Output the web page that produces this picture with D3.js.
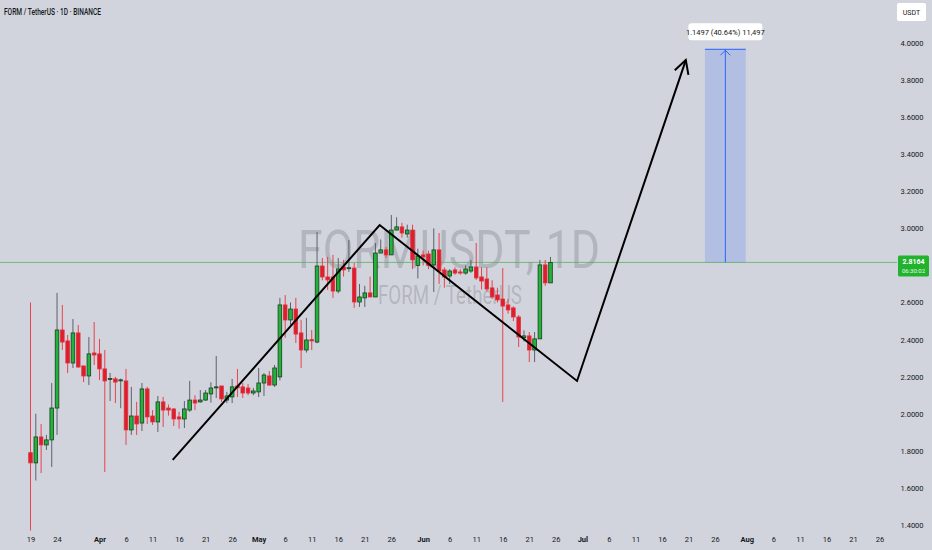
<!DOCTYPE html>
<html><head><meta charset="utf-8">
<script src="https://cdn.jsdelivr.net/npm/d3@7"></script>
<style>
html,body{margin:0;padding:0;background:#d1d4dc;}
svg{display:block;font-family:Roboto,"Noto Sans",sans-serif;}
</style></head>
<body>
<script>
// ---------- DATA ----------
const startDate = "2025-03-19";
const opens  = [1.79,1.735,1.875,1.832,1.859,2.031,2.452,2.393,2.274,2.436,2.258,2.204,2.328,2.323,2.242,2.186,2.188,2.18,2.177,1.913,1.988,1.95,2.134,1.988,1.956,2.064,2.031,2.026,1.983,1.972,2.02,2.074,2.064,2.074,2.107,2.142,2.15,2.074,2.091,2.15,2.145,2.139,2.112,2.118,2.166,2.204,2.155,2.199,2.587,2.506,2.565,2.436,2.344,2.40,2.387,2.797,2.738,2.738,2.662,2.792,2.784,2.786,2.603,2.625,2.652,2.63,2.867,2.884,2.857,2.991,3.008,2.97,2.991,2.80,2.857,2.862,2.803,2.884,2.776,2.743,2.776,2.765,2.759,2.77,2.792,2.738,2.727,2.679,2.641,2.619,2.587,2.571,2.522,2.41,2.42,2.344,2.404,2.803,2.706];
const highs  = [2.60,2.00,1.945,1.886,2.166,2.652,2.587,2.425,2.511,2.479,2.26,2.414,2.495,2.404,2.344,2.22,2.199,2.19,2.242,2.145,2.064,2.166,2.145,2.02,2.096,2.091,2.05,2.031,2.01,2.069,2.177,2.10,2.128,2.128,2.17,2.312,2.15,2.118,2.188,2.242,2.166,2.16,2.14,2.247,2.22,2.23,2.263,2.625,2.64,2.60,2.625,2.506,2.517,2.452,2.981,2.84,2.846,2.857,2.84,2.83,2.937,2.813,2.70,2.69,2.74,2.921,2.94,2.90,3.072,3.06,3.03,3.02,3.02,2.89,2.88,2.88,3.0,2.975,2.79,2.78,2.79,2.78,2.80,2.83,2.921,2.79,2.79,2.72,2.68,2.786,2.62,2.58,2.533,2.45,2.441,2.441,2.83,2.83,2.846];
const lows   = [1.37,1.64,1.68,1.805,1.713,1.886,2.344,2.22,2.247,2.25,2.171,2.155,2.263,2.182,1.686,2.069,2.058,2.03,1.832,1.886,1.886,1.907,1.945,1.94,1.902,1.929,1.99,1.934,1.92,1.923,2.01,2.02,2.06,2.07,2.06,2.085,2.064,2.058,2.058,2.09,2.085,2.10,2.10,2.09,2.096,2.15,2.145,2.18,2.41,2.48,2.382,2.247,2.33,2.344,2.38,2.72,2.668,2.625,2.65,2.74,2.765,2.571,2.576,2.576,2.63,2.63,2.867,2.84,2.857,2.99,2.95,2.95,2.78,2.73,2.80,2.78,2.657,2.70,2.68,2.70,2.75,2.75,2.75,2.76,2.722,2.67,2.66,2.62,2.60,2.064,2.54,2.50,2.36,2.39,2.279,2.279,2.404,2.69,2.706];
const closes = [1.735,1.875,1.832,1.859,2.031,2.452,2.387,2.274,2.436,2.252,2.204,2.323,2.317,2.242,2.177,2.19,2.171,2.183,1.913,1.988,1.945,2.134,1.983,1.956,2.064,2.02,2.02,1.972,1.972,2.026,2.074,2.058,2.074,2.112,2.139,2.145,2.08,2.096,2.145,2.14,2.112,2.112,2.123,2.166,2.209,2.155,2.247,2.587,2.506,2.565,2.43,2.344,2.398,2.393,2.797,2.738,2.722,2.662,2.781,2.776,2.788,2.603,2.63,2.652,2.63,2.867,2.884,2.857,2.991,3.008,2.975,2.991,2.83,2.851,2.846,2.80,2.884,2.77,2.738,2.77,2.759,2.759,2.781,2.792,2.733,2.716,2.673,2.63,2.614,2.581,2.56,2.522,2.414,2.42,2.344,2.404,2.803,2.706,2.8164];

// 2.8000 is hidden behind the last-price label in the reference
const priceTicks = [1.4,1.6,1.8,2.0,2.2,2.4,2.6,3.0,3.2,3.4,3.6,3.8,4.0];
const timeTickDates  = ["2025-03-19","2025-03-24","2025-04-01","2025-04-06","2025-04-11","2025-04-16","2025-04-21","2025-04-26","2025-05-01","2025-05-06","2025-05-11","2025-05-16","2025-05-21","2025-05-26","2025-06-01","2025-06-06","2025-06-11","2025-06-16","2025-06-21","2025-06-26","2025-07-01","2025-07-06","2025-07-11","2025-07-16","2025-07-21","2025-07-26","2025-08-01","2025-08-06","2025-08-11","2025-08-16","2025-08-21","2025-08-26"];
const timeTickLabels = ["19","24","Apr","6","11","16","21","26","May","6","11","16","21","26","Jun","6","11","16","21","26","Jul","6","11","16","21","26","Aug","6","11","16","21","26"];

// hand-drawn path (day offset from start, price)
const pathDays   = [26.8, 65.8, 103.0, 123.5];
const pathPrices = [1.751, 3.018, 2.177, 3.908];

// target projection box
const targetStartDay = 127.1, targetEndDay = 134.8;
const targetFrom = 2.8164, targetTo = 3.9661;
const targetLabel = "1.1497 (40.64%) 11,497";

const lastPrice = 2.8164, countdown = "06:30:02";
const title = "FORM / TetherUS · 1D · BINANCE";
const wmMain = "FORMUSDT, 1D", wmSub = "FORM / TetherUS";

// ---------- CHART ----------
const W = 932, H = 550;
const parse = d3.utcParse("%Y-%m-%d");
const t0 = parse(startDate);
const dayDate = d => new Date(t0.getTime() + d * 864e5);

const x = d3.scaleUtc().domain([parse("2025-03-19"), parse("2025-08-26")]).range([30.5, 879.5]);
const y = d3.scaleLinear().domain([1.4, 4.0]).range([525, 43]);
const dayPx = x(dayDate(1)) - x(dayDate(0));

const svg = d3.select("body").append("svg").attr("width", W).attr("height", H);
svg.append("rect").attr("width", W).attr("height", H).attr("fill", "#d1d4dc");

// watermark
svg.append("text").attr("x", 449).attr("y", 268).attr("text-anchor", "middle")
  .attr("font-size", 54).attr("fill", "#8e919a").attr("fill-opacity", 0.45)
  .attr("textLength", 302).attr("lengthAdjust", "spacingAndGlyphs").text(wmMain);
svg.append("text").attr("x", 450).attr("y", 304).attr("text-anchor", "middle")
  .attr("font-size", 25).attr("fill", "#8e919a").attr("fill-opacity", 0.45)
  .attr("textLength", 144).attr("lengthAdjust", "spacingAndGlyphs").text(wmSub);

// last price line
svg.append("line").attr("x1", 0).attr("x2", 897).attr("y1", y(lastPrice)).attr("y2", y(lastPrice))
  .attr("stroke", "#4caf50").attr("stroke-opacity", 0.7).attr("stroke-width", 1);

// target box
const bx0 = x(dayDate(targetStartDay)), bx1 = x(dayDate(targetEndDay));
svg.append("rect").attr("x", bx0).attr("y", y(targetTo)).attr("width", bx1 - bx0)
  .attr("height", y(targetFrom) - y(targetTo)).attr("fill", "#2962ff").attr("fill-opacity", 0.18);
svg.append("line").attr("x1", bx0).attr("x2", bx1).attr("y1", y(targetTo)).attr("y2", y(targetTo))
  .attr("stroke", "#2962ff").attr("stroke-width", 1);
const bmx = (bx0 + bx1) / 2;
svg.append("line").attr("x1", bmx).attr("x2", bmx).attr("y1", y(targetFrom)).attr("y2", y(targetTo))
  .attr("stroke", "#2962ff").attr("stroke-width", 1);
svg.append("path").attr("d", `M${bmx-5},${y(targetTo)+6}L${bmx},${y(targetTo)+1}L${bmx+5},${y(targetTo)+6}`)
  .attr("fill", "none").attr("stroke", "#2962ff").attr("stroke-width", 1);
svg.append("rect").attr("x", bmx - 37).attr("y", y(targetTo) - 26).attr("width", 74).attr("height", 17)
  .attr("rx", 3).attr("fill", "#ffffff");
svg.append("text").attr("x", bmx).attr("y", y(targetTo) - 14.5).attr("text-anchor", "middle")
  .attr("font-size", 7.5).attr("fill", "#131722").text(targetLabel);

// candles
const candles = opens.map((o, i) => ({date: dayDate(i), o, h: highs[i], l: lows[i], c: closes[i]}));
const bw = Math.max(2, dayPx * 0.68);
const g = svg.append("g");
const cg = g.selectAll("g").data(candles).join("g");
cg.append("line")
  .attr("x1", d => x(d.date)).attr("x2", d => x(d.date))
  .attr("y1", d => y(d.h)).attr("y2", d => y(d.l))
  .attr("stroke", d => d.c >= d.o ? "#5d606b" : "#e8424e").attr("stroke-width", 1);
cg.append("rect")
  .attr("x", d => x(d.date) - bw / 2).attr("width", bw)
  .attr("y", d => y(Math.max(d.o, d.c)))
  .attr("height", d => Math.max(1, Math.abs(y(d.o) - y(d.c))))
  .attr("fill", d => d.c >= d.o ? "#22b33a" : "#dd1f2d")
  .attr("stroke", d => d.c >= d.o ? "#1a3d1f" : "#e0303c").attr("stroke-width", 0.8);

// black drawn path with arrow
const pts = pathDays.map((d, i) => [x(dayDate(d)), y(pathPrices[i])]);
svg.append("path").attr("d", d3.line()(pts)).attr("fill", "none")
  .attr("stroke", "#000").attr("stroke-width", 2).attr("stroke-linejoin", "miter");
{
  const [xa, ya] = pts[pts.length - 2], [xb, yb] = pts[pts.length - 1];
  const ang = Math.atan2(yb - ya, xb - xa), L = 15, sp = 0.5;
  const p1 = [xb - L * Math.cos(ang - sp), yb - L * Math.sin(ang - sp)];
  const p2 = [xb - L * Math.cos(ang + sp), yb - L * Math.sin(ang + sp)];
  svg.append("path").attr("d", `M${p1}L${xb},${yb}L${p2}`).attr("fill", "none")
    .attr("stroke", "#000").attr("stroke-width", 2);
}

// title
svg.append("text").attr("x", 4).attr("y", 15).attr("font-size", 9.5).attr("fill", "#131722")
  .attr("font-weight", 500)
  .attr("textLength", 97).attr("lengthAdjust", "spacingAndGlyphs").text(title);

// price axis
const yAxis = d3.axisRight(y).tickValues(priceTicks).tickFormat(d3.format(".4f")).tickSize(0).tickPadding(0);
const ya = svg.append("g").attr("transform", "translate(912,0)").call(yAxis);
ya.select(".domain").remove();
ya.selectAll("text").attr("text-anchor", "middle").attr("font-size", 7.5).attr("fill", "#131722")
  .attr("font-family", "Roboto,sans-serif");

// time axis
const xAxis = d3.axisBottom(x).tickValues(timeTickDates.map(parse))
  .tickFormat((d, i) => timeTickLabels[i]).tickSize(0).tickPadding(0);
const xa = svg.append("g").attr("transform", "translate(0,537)").call(xAxis);
xa.select(".domain").remove();
xa.selectAll("text").attr("font-size", 7.5).attr("fill", "#131722").attr("font-family", "Roboto,sans-serif")
  .attr("font-weight", (d, i) => isNaN(+timeTickLabels[i]) ? "bold" : "normal");

// USDT box
svg.append("rect").attr("x", 897).attr("y", 3).attr("width", 29).attr("height", 18).attr("rx", 2).attr("fill", "#fff");
svg.append("text").attr("x", 911.5).attr("y", 15).attr("text-anchor", "middle").attr("font-size", 7)
  .attr("fill", "#131722").text("USDT");

// last price label
const lp = y(lastPrice);
svg.append("rect").attr("x", 898).attr("y", lp - 7).attr("width", 31).attr("height", 21).attr("rx", 1.5).attr("fill", "#22b32e");
svg.append("text").attr("x", 913.5).attr("y", lp + 1.5).attr("text-anchor", "middle").attr("font-size", 7)
  .attr("font-weight", "bold").attr("fill", "#fff").text(lastPrice.toFixed(4));
svg.append("text").attr("x", 913.5).attr("y", lp + 11).attr("text-anchor", "middle").attr("font-size", 6)
  .attr("fill", "#e8f5e9").text(countdown);
</script>
</body></html>
